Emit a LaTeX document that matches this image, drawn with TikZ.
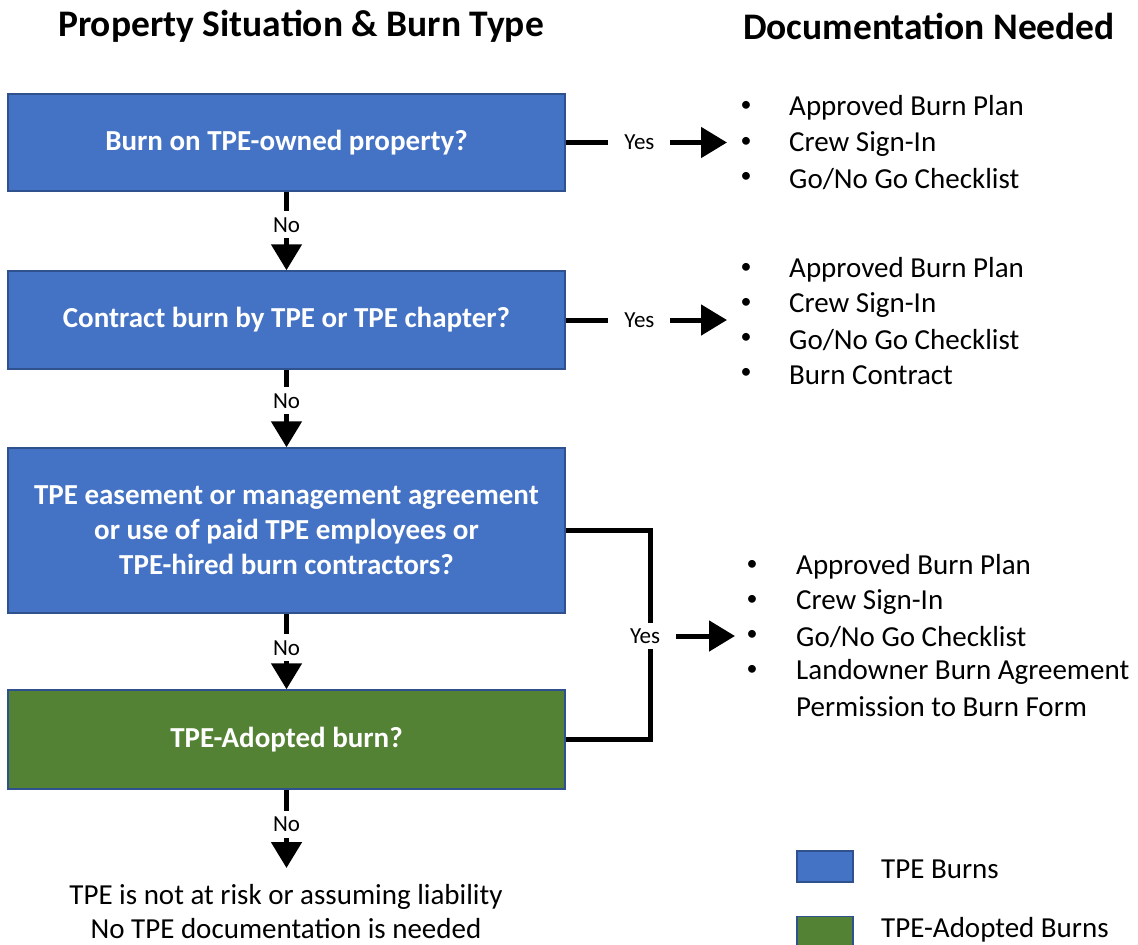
\documentclass[tikz,border=0pt]{standalone}
\usepackage{fontspec}
\setmainfont{Carlito}
\usetikzlibrary{arrows.meta}
\definecolor{tpeblue}{HTML}{4472C4}
\definecolor{tpeborder}{HTML}{2F528F}
\definecolor{tpegreen}{HTML}{548235}
\begin{document}
\begin{tikzpicture}[x=1pt,y=-1pt,
 box/.style={draw=tpeborder, line width=1.5pt, fill=tpeblue, text=white, font=\fontsize{29}{35}\selectfont\bfseries, minimum width=557pt, align=center, inner sep=0pt},
 gbox/.style={box, fill=tpegreen},
 conn/.style={line width=5pt, -{Triangle[length=26pt,width=30pt]}},
 plain/.style={line width=5pt},
 lbl/.style={fill=white, font=\fontsize{23}{28}\selectfont, inner xsep=16pt, inner ysep=6pt},
 item/.style={anchor=west, font=\fontsize{29}{35}\selectfont, inner sep=0pt},
 bul/.style={font=\fontsize{22}{26}\selectfont, inner sep=0pt},
 title/.style={font=\fontsize{37.5}{44}\selectfont\bfseries},
 legbox/.style={draw=tpeborder, line width=1.5pt, minimum width=56pt, minimum height=31pt, inner sep=0pt}
]
\useasboundingbox (0,0) rectangle (1138,945);
\clip (0,0) rectangle (1138,945);

% titles
\node[title] (t-left) at (301,26) {Property Situation \& Burn Type};
\node[title] (t-right) at (929,26) {Documentation Needed};

% boxes
\node[box, minimum height=97pt] (b1) at (286.5,142.5) {Burn on TPE-owned property?};
\node[box, minimum height=98pt] (b2) at (286.5,320) {Contract burn by TPE or TPE chapter?};
\node[box, minimum height=165pt] (b3) at (286.5,530.5) {TPE easement or management agreement\\or use of paid TPE employees or\\TPE-hired burn contractors?};
\node[gbox, minimum height=99pt] (b4) at (286.5,739.5) {TPE-Adopted burn?};

% result text
\node[font=\fontsize{29}{34}\selectfont, align=center, inner sep=0pt] (res) at (286,912) {TPE is not at risk or assuming liability\\No TPE documentation is needed};

% coordinates
\coordinate (t1) at (727,142.5);
\coordinate (t2) at (727,320);
\coordinate (t3) at (735,636);
\coordinate (t4) at (286.5,868);
\coordinate (j) at (650,636);

% No arrows
\draw[conn] (b1) -- (b2) node[lbl, pos=0.42] (n1) {No};
\draw[conn] (b2) -- (b3) node[lbl, pos=0.40] (n2) {No};
\draw[conn] (b3) -- (b4) node[lbl, pos=0.45] (n3) {No};
\draw[conn] (b4) -- (t4) node[lbl, pos=0.44] (n4) {No};

% Yes arrows
\draw[conn] (b1) -- (t1) node[lbl, pos=0.457] (y1) {Yes};
\draw[conn] (b2) -- (t2) node[lbl, pos=0.457] (y2) {Yes};
\draw[plain] (b3.east) -| (j) |- (b4.east);
\node[lbl] (y3) at (645,636) {Yes};
\draw[conn] (y3.east) -- (t3);

% list 1
\foreach \yy/\tx in {108/{Approved Burn Plan},144/{Crew Sign-In},179/{Go/No Go Checklist}}{
  \node[bul] at (746,\yy-2) {•};
  \node[item] at (789,\yy) {\tx};
}
% list 2
\foreach \yy/\tx in {270/{Approved Burn Plan},305/{Crew Sign-In},340/{Go/No Go Checklist},375/{Burn Contract}}{
  \node[bul] at (746,\yy-2) {•};
  \node[item] at (789,\yy) {\tx};
}
% list 3
\foreach \yy/\tx in {567/{Approved Burn Plan},602/{Crew Sign-In},637/{Go/No Go Checklist},672/{Landowner Burn Agreement}}{
  \node[bul] at (752,\yy-2) {•};
  \node[item] at (796,\yy) {\tx};
}
\node[item] (perm) at (796,707) {Permission to Burn Form};

% legend
\node[legbox, fill=tpeblue] (lb) at (825,866.5) {};
\node[item] (lbt) at (881,869) {TPE Burns};
\node[legbox, fill=tpegreen] (lg) at (825,932) {};
\node[item] (lgt) at (881,929.5) {TPE-Adopted Burns};
\end{tikzpicture}
\end{document}
